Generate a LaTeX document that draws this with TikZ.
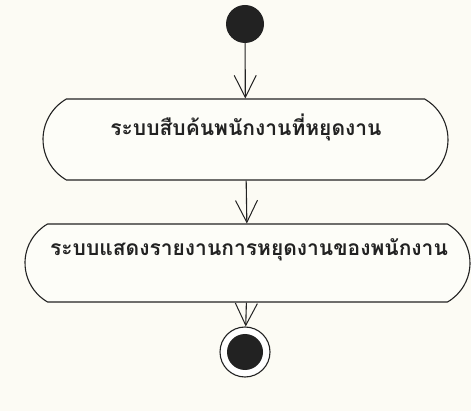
\documentclass[tikz,border=0pt]{standalone}
\usepackage{fontspec}
\newfontfamily\thaifont[Script=Thai]{Loma}
\usetikzlibrary{shapes.misc,arrows.meta}
\definecolor{bg}{HTML}{FCFBF4}
\definecolor{boxfill}{HTML}{FDFDF8}
\definecolor{ink}{HTML}{222222}
\begin{document}
\begin{tikzpicture}[x=1pt,y=-1pt,
  line/.style={draw=ink, line width=1.1pt},
  flow/.style={line, -{Straight Barb[length=22pt,width=22pt,line width=1pt]}},
  act/.style={rounded rectangle, rounded rectangle arc length=120, draw=ink, line width=1.1pt, fill=boxfill, inner sep=0pt},
  lbl/.style={font=\thaifont\bfseries\fontsize{21}{25}\selectfont, inner sep=0pt, text=ink}]
\fill[bg] (0,0) rectangle (471,411);
\useasboundingbox (0,0) rectangle (471,411);
\node[circle, fill=ink, minimum size=38pt, inner sep=0pt] (start) at (245,24) {};
\node[act, minimum width=405pt, minimum height=81pt] (a1) at (245.5,139.5) {};
\node[lbl] (t1) at (246,127) {ระบบสืบค้นพนักงานที่หยุดงาน};
\node[act, minimum width=445pt, minimum height=78pt] (a2) at (247.5,263) {};
\node[lbl] (t2) at (249,250) {ระบบแสดงรายงานการหยุดงานของพนักงาน};
\node[circle, draw=ink, line width=1.1pt, minimum size=50pt, inner sep=0pt, fill=white] (end) at (245,352) {};
\node[circle, fill=ink, minimum size=36pt, inner sep=0pt] (endin) at (end) {};
\draw[flow] (start) -- (a1);
\draw[flow] (a1) -- (a2);
\draw[flow] (a2) -- (end);
\end{tikzpicture}
\end{document}
